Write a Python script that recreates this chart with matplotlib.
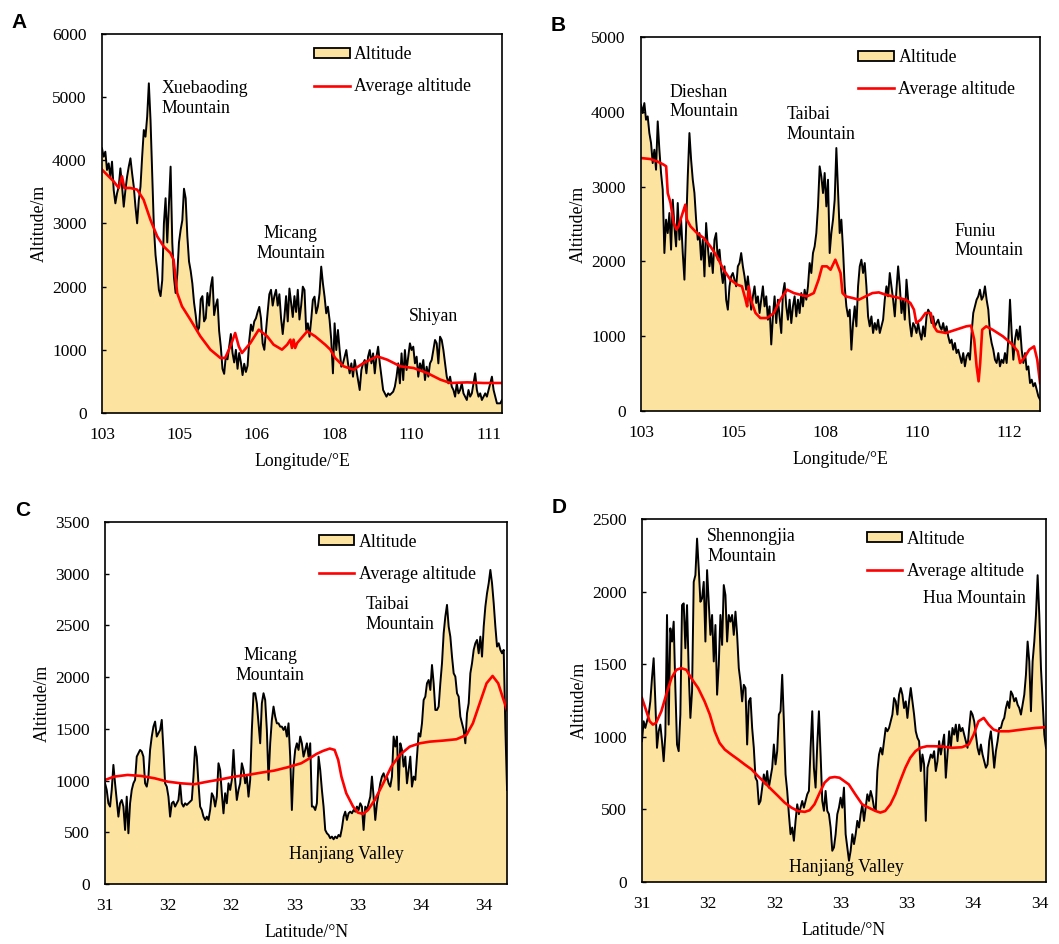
import numpy as np
import matplotlib
matplotlib.use('Agg')
import matplotlib.pyplot as plt
from matplotlib.patches import Patch
from matplotlib.lines import Line2D

plt.rcParams['font.family'] = ['Liberation Serif', 'DejaVu Serif']

FILL = '#FCE3A0'

# ---- A: altitude profile along longitude (equal spacing along the section)
alt_a = [4190, 4058, 4137, 3847, 3952, 3741, 3979, 3530, 3319, 3477, 3583, 3873, 3583, 3266, 3530,
         3741, 3900, 4032, 3794, 3583, 3266, 3003, 3372, 3583, 4058, 4480, 4374, 4690, 5219, 4638,
         3800, 2950, 2500, 2250, 1950, 1850, 2100, 3000, 3400, 2700, 3300, 3900, 2700, 2150, 1900,
         2200, 2700, 2900, 3050, 3550, 3400, 2800, 2400, 2250, 2050, 1750, 1550, 1300, 1350, 1800,
         1850, 1450, 1500, 1900, 1700, 2000, 2150, 1550, 1700, 1800, 1300, 1050, 700, 620, 900,
         850, 1050, 1250, 950, 800, 1000, 700, 950, 800, 600, 780, 650, 750, 1150, 1400,
         1300, 1450, 1500, 1600, 1680, 1500, 1100, 1000, 1300, 1600, 1880, 1950, 1700, 1850, 1950,
         1700, 1880, 1500, 1250, 1520, 1850, 1450, 1970, 1750, 1520, 1850, 1600, 1950, 1480, 1700,
         2000,
         1947, 1314, 1420, 1208, 1472, 1789, 1842, 1578, 1683, 1894, 2317, 2053, 1842, 1578, 1683,
         1472, 1156, 628, 1420, 997, 1314, 997, 733, 786, 892, 997, 786, 628, 786, 575,
         839, 681, 522, 364, 681, 786, 839, 628, 892, 997, 786, 944, 628, 892, 1050,
         786, 575, 364, 311, 259, 311, 285, 311, 338, 417, 575, 786, 470, 944, 522,
         997, 681, 892, 1103, 997, 1050, 786, 892, 575, 786, 681, 839, 522, 733, 575,
         786, 839, 997, 1156, 1103, 786, 1208, 1156, 997, 786, 575, 470, 575, 417, 364,
         259, 470, 311, 364, 470, 311, 259, 206, 364, 259, 311, 470, 628, 364, 259,
         311, 206, 259, 311, 259, 364, 470, 575, 364, 259, 153, 153, 153, 206]
avg_a_pos = [0, 2.9, 4.2, 5.0, 5.6, 7.1, 8.8, 10.4, 12.1, 13.8, 15.4, 17.1, 17.9, 18.8, 20.0,
             22.1, 24.6, 27.1, 29.6, 30.8, 32.1, 33.3, 34.2, 35.0, 37.1, 39.2, 41.3, 42.9, 45.0,
             46.3, 47.1, 47.5, 47.9, 48.3, 48.8, 51.3, 53.3, 55.8, 57.1, 58.3, 60.4, 62.9, 65.4,
             68.8, 71.3, 74.6, 77.9, 81.3, 84.6, 87.1, 91.3, 95.4, 100]
avg_a = [3852, 3668, 3562, 3747, 3562, 3562, 3536, 3377, 3061, 2797, 2639, 2533, 2427, 1900, 1689,
         1478, 1214, 1003, 871, 871, 1055, 1266, 1055, 950, 1108, 1319, 1214, 1082, 1003,
         1082, 1161, 1030, 1161, 1030, 1108, 1293, 1214, 1082, 1003, 871, 739, 686, 792,
         897, 844, 739, 712, 633, 528, 475, 485, 475, 475]
ticks_a = ['103', '105', '106', '108', '110', '111']

# ---- B
alt_b = [4095, 3984, 4117, 3894, 3939, 3716, 3583, 3315, 3493, 3226, 3872, 3493, 3182, 2959, 2112,
         2558, 2379, 2647, 2157, 2825, 2469, 2201, 2781, 2290, 2558, 2112, 1756, 2469, 3137, 3716,
         3360, 3092, 2914, 2558, 2290, 2379, 2023, 2290, 1800, 2513, 2201, 1934, 2112, 1845, 2290,
         2379, 2023, 2157, 1889, 1711, 1934, 1488, 1355, 1667, 1800, 1845, 1756, 1667, 1934, 1978,
         2112, 1934, 1800, 1622, 1800, 1577, 1355, 1533, 1667, 1444, 1533, 1310, 1488, 1667, 1399,
         1533, 1221, 1399, 890, 1265, 1533, 1176, 1488, 1265, 1043, 1577, 1711, 1399, 1221, 1488,
         1176, 1399, 1533, 1265, 1488, 1310, 1577, 1399, 1622, 1488, 1667, 1978, 1845, 2112, 2201,
         2379, 2736, 3271, 3137, 2914, 3182, 2736, 3092, 2112, 2379, 2558, 2825, 3516, 2959, 2379,
         2558,
         2157, 1667, 1399, 1265, 1355, 820, 1176, 1399, 1132, 1667, 1934, 2023, 1845, 1978, 1667,
         1265, 1132, 1265, 1043, 1176, 1087, 1221, 1043, 1132, 1221, 1488, 1667, 1533, 1845, 1667,
         1488, 1265, 1622, 1934, 1667, 1310, 1488, 1221, 1756, 1488, 1176, 998, 1176, 1132, 1043,
         1176, 1043, 954, 1132, 998, 1265, 1355, 1310, 1176, 1265, 1132, 1176, 1221, 1132, 1087,
         1176, 1043, 1132, 998, 909, 954, 820, 909, 775, 820, 731, 642, 775, 597, 731,
         775, 686, 1043, 1310, 1399, 1488, 1533, 1622, 1488, 1533, 1667, 1488, 1355, 1043, 909,
         820, 686, 642, 775, 597, 686, 642, 775, 642, 954, 1488, 1043, 686, 954, 1087,
         954, 1132, 820, 642, 775, 553, 597, 374, 419, 330, 374, 285, 196, 152]
avg_b_pos = [0, 2.3, 4.0, 5.7, 6.3, 6.7, 7.4, 8.2, 8.9, 9.4, 10.3, 11.1, 11.5, 12.4, 14.0,
             15.7, 17.4, 19.0, 20.7, 22.4, 24.1, 25.3, 26.2, 26.6, 27.0, 27.4, 27.8, 28.7, 29.9,
             31.6, 33.3, 34.9, 36.6, 38.3, 39.9, 41.6, 43.3, 44.5, 45.4, 46.6, 47.5, 48.7, 50.0,
             50.5, 51.3, 53.0, 54.6, 56.3, 58.0, 59.6, 61.3, 63.0, 64.7, 66.3, 67.5, 68.4, 69.0,
             70.1, 71.3, 72.6, 73.4, 74.2, 76.4, 78.9, 81.5, 82.7, 83.5, 84.1, 84.6, 85.0, 85.5,
             86.5, 88.1, 90.7, 93.1, 94.4, 95.0, 96.0, 97.3, 98.5, 99.3, 100]
avg_b = [3382, 3369, 3338, 3293, 3271, 2914, 2781, 2513, 2424, 2469, 2625, 2758, 2558, 2469, 2380,
         2313, 2201, 2068, 1889, 1756, 1689, 1667, 1488, 1399, 1667, 1533, 1444, 1310, 1243,
         1243, 1310, 1488, 1622, 1577, 1555, 1533, 1577, 1756, 1934, 1934, 1889, 2023, 1845,
         1577, 1533, 1511, 1488, 1533, 1577, 1586, 1555, 1533, 1511, 1488, 1444, 1355, 1176,
         1221, 1310, 1310, 1132, 1065, 1043, 1087, 1132, 1141, 954, 597, 397, 642, 1087,
         1132, 1087, 998, 887, 798, 642, 709, 820, 864, 686, 374]
ticks_b = ['103', '105', '108', '110', '112']

# ---- C: altitude profile along latitude
alt_c = [973, 909, 780, 748, 909, 1151, 973, 812, 651, 780, 812, 748, 522, 844, 490,
         780, 909, 973, 1006, 1231, 1263, 1296, 1280, 1231, 973, 941, 1038, 1296, 1425, 1521,
         1570, 1425, 1457, 1489, 1586, 1296, 973, 941, 844, 651, 780, 796, 748, 780, 812,
         973, 780, 748, 780, 764, 780, 796, 812, 1038, 1328, 1231, 973, 748, 715, 651,
         619, 651, 619, 715, 877, 844, 748, 844, 1167, 1102, 877, 683, 877, 780, 973,
         909, 1006, 1296, 1006, 812, 909, 973, 1167, 1102, 973, 1038, 844, 1006, 1489, 1844,
         1844, 1747, 1553, 1360, 1747, 1844, 1779, 1489, 1006, 1360, 1586, 1715, 1618, 1553, 1553,
         1521, 1521, 1489, 1521, 1425, 1553, 1231, 715, 1134, 1296, 1360, 1296, 1425, 1360, 1231,
         1296,
         1360, 1231, 1360, 748, 748, 715, 780, 1231, 1102, 909, 748, 522, 490, 474, 442,
         458, 432, 458, 442, 474, 458, 538, 651, 699, 619, 683, 699, 683, 715, 699,
         748, 715, 780, 748, 522, 748, 715, 780, 844, 1038, 844, 619, 780, 877, 973,
         1038, 1070, 1006, 1038, 973, 941, 1038, 1425, 1328, 1425, 909, 1360, 1296, 1134, 1231,
         973, 1102, 1231, 941, 1038, 1006, 1231, 1457, 1425, 1553, 1779, 1811, 1940, 1972, 1876,
         2117, 1940, 1682, 1682, 1715, 1940, 2134, 2424, 2585, 2698, 2488, 2391, 2198, 2037, 2005,
         1844, 1811, 1618, 1553, 1489, 1360, 1650, 1747, 2037, 2134, 2263, 2327, 2359, 2230, 2391,
         2198, 2488, 2682, 2811, 2907, 3036, 2907, 2714, 2488, 2295, 2327, 2263, 2230, 2263, 1500,
         909]
avg_c_pos = [0, 2.3, 5.6, 9.0, 12.3, 15.6, 18.9, 22.2, 25.5, 28.9, 32.2, 35.5, 38.8, 42.1, 45.4,
             48.8, 50.9, 52.6, 54.2, 55.9, 57.1, 58.0, 58.8, 60.0, 61.7, 62.9, 64.2, 65.4, 67.1,
             69.2, 71.2, 73.3, 75.8, 78.3, 80.8, 84.1, 87.4, 89.9, 91.5, 93.2, 94.9, 96.4, 97.8,
             99.0, 100]
avg_c = [1006, 1038, 1054, 1044, 1022, 989, 973, 964, 989, 1012, 1038, 1054, 1076, 1096, 1128,
         1167, 1215, 1257, 1286, 1309, 1296, 1199, 1038, 877, 748, 690, 677, 715, 812,
         973, 1134, 1247, 1328, 1360, 1376, 1386, 1399, 1441, 1553, 1747, 1940, 2011, 1940,
         1795, 1682]
ticks_c = ['31', '32', '32', '33', '33', '34', '34']

# ---- D
alt_d = [970, 1107, 1061, 1107, 1153, 1244, 1404, 1541, 1244, 924, 1038, 1084, 970, 832, 1015,
         1839, 1084, 1747, 1656, 1793, 1336, 947, 901, 1153, 1907, 1919, 1610, 1907, 1450, 1130,
         1313, 2067, 2113, 2365, 2159, 1930, 1953, 2067, 1656, 2148, 1930, 1702, 1839, 1519, 1770,
         1290, 1496, 1839, 1633, 2045, 1976, 1656, 1839, 1793, 1839, 1702, 1862, 1702, 1473, 1381,
         1244, 1358, 1336, 947, 1244, 1267, 1061, 924, 718, 695, 535, 558, 650, 741, 672,
         764, 650, 718, 786, 947, 810, 901, 1153, 1176, 1427, 1107, 741, 627, 467, 329,
         375, 284, 421, 535, 467, 512, 558, 512, 558, 604, 627, 924, 1176, 786, 650,
         947, 1176, 878, 558, 490, 627, 490, 467, 375, 215, 238, 329, 467, 512, 581,
         512,
         650, 329, 238, 146, 215, 329, 261, 329, 421, 375, 467, 535, 421, 512, 604,
         558, 627, 581, 512, 489, 764, 878, 924, 878, 970, 1061, 1038, 1061, 1107, 1153,
         1267, 1244, 1153, 1290, 1336, 1290, 1198, 1244, 1130, 1244, 1336, 1244, 1153, 1038, 993,
         970, 764, 878, 810, 421, 787, 832, 878, 855, 901, 764, 832, 970, 878, 947,
         1015, 718, 878, 1038, 924, 1061, 1015, 1084, 970, 1084, 1038, 1061, 1015, 970, 924,
         1061, 1176, 1153, 1107, 1015, 924, 878, 947, 878, 832, 787, 810, 970, 1038, 924,
         787, 901, 970, 1061, 1061, 1107, 1130, 1198, 1244, 1198, 1313, 1290, 1244, 1267, 1221,
         1198, 1153, 1221, 1290, 1427, 1656, 1519, 1176, 1519, 1656, 1839, 2113, 1839, 1473, 1244,
         1015, 924]
avg_d_pos = [0, 1.1, 1.9, 2.7, 3.5, 4.8, 6.0, 7.3, 8.5, 9.7, 11.0, 12.2, 13.9, 15.5, 16.8,
             18.0, 19.2, 20.5, 22.1, 23.8, 25.4, 27.1, 28.7, 30.4, 32.0, 33.7, 35.3, 37.0, 38.6,
             40.3, 41.5, 42.7, 44.0, 45.2, 46.5, 47.7, 48.9, 51.2, 52.8, 54.5, 56.1, 57.8, 59.0,
             60.2, 61.5, 62.7, 63.9, 65.2, 66.4, 67.7, 68.9, 70.5, 72.2, 74.3, 76.7, 79.2, 80.9,
             82.1, 83.3, 84.6, 85.8, 87.0, 88.3, 90.8, 94.1, 97.4, 100]
avg_d = [1267, 1176, 1107, 1084, 1096, 1176, 1290, 1404, 1461, 1473, 1461, 1404, 1336, 1244, 1153,
         1038, 958, 912, 878, 844, 810, 776, 730, 684, 638, 592, 547, 512, 489,
         483, 494, 535, 615, 684, 718, 723, 718, 672, 604, 535, 512, 489, 478,
         489, 535, 604, 695, 787, 855, 901, 924, 935, 935, 933, 924, 928, 947,
         1015, 1107, 1130, 1084, 1050, 1038, 1038, 1050, 1061, 1066]
ticks_d = ['31', '32', '32', '33', '33', '34', '34']


def panel(rect, letter, alt, avg_pos, avg, ymax, ystep, ticks, tstep, xlab, notes, legx):
    ax = fig.add_axes(rect)
    x = np.linspace(0, 100, len(alt))
    ax.fill_between(x, alt, 0, color=FILL, lw=0)
    ax.plot(x, alt, color='black', lw=1.4)
    ax.plot(avg_pos, avg, color='red', lw=1.9)
    ax.set_xlim(0, 100)
    ax.set_ylim(0, ymax)
    ax.set_yticks(np.arange(0, ymax + 1, ystep))
    ax.set_xticks(np.arange(len(ticks)) * tstep)
    ax.set_xticklabels(ticks)
    ax.tick_params(axis='y', direction='in', length=3, width=1, labelsize=12.5, pad=11)
    ax.tick_params(axis='x', length=0, labelsize=12.5, pad=10)
    for s in ax.spines.values():
        s.set_linewidth(1.2)
    ax.set_ylabel('Altitude/m', fontsize=12.8, labelpad=3)
    ax.set_xlabel(xlab, fontsize=12.8, labelpad=7)
    for txt, tx, ty, ha in notes:
        ax.text(tx, ty, txt, fontsize=12.8, ha=ha, va='center', linespacing=1.2)
    hands = [Patch(facecolor=FILL, edgecolor='black', linewidth=1.3, label='Altitude'),
             Line2D([], [], color='red', lw=1.9, label='Average altitude')]
    ax.legend(handles=hands, loc='upper left', bbox_to_anchor=(legx, 0.968), frameon=False,
              fontsize=12.8, handlelength=2.0, handleheight=0.5, handletextpad=0.25,
              labelspacing=0.85, borderpad=0, borderaxespad=0)
    fig.text(rect[0] - 0.078, rect[1] + rect[3] + 0.012, letter, fontsize=15,
             fontweight='bold', family='Liberation Sans', ha='center', va='center')
    return ax


fig = plt.figure(figsize=(10.59, 9.44), dpi=100)

panel([0.0963, 0.5625, 0.3777, 0.4015], 'A', alt_a, avg_a_pos, avg_a, 6000, 1000,
      ticks_a, 19.34, 'Longitude/°E',
      [('Xuebaoding\nMountain', 15.0, 4976, 'left'),
       ('Micang\nMountain', 47.2, 2680, 'center'),
       ('Shiyan', 82.9, 1530, 'center')], 0.53)

panel([0.6053, 0.5646, 0.3768, 0.3962], 'B', alt_b, avg_b_pos, avg_b, 5000, 1000,
      ticks_b, 23.1, 'Longitude/°E',
      [('Dieshan\nMountain', 7.1, 4131, 'left'),
       ('Taibai\nMountain', 36.5, 3832, 'left'),
       ('Funiu\nMountain', 78.6, 2273, 'left')], 0.545)

panel([0.0992, 0.0636, 0.3796, 0.3835], 'C', alt_c, avg_c_pos, avg_c, 3500, 500,
      ticks_c, 15.7, 'Latitude/°N',
      [('Micang\nMountain', 41.1, 2111, 'center'),
       ('Taibai\nMountain', 64.7, 2604, 'left'),
       ('Hanjiang Valley', 60.0, 284, 'center')], 0.531)

panel([0.6062, 0.0657, 0.3815, 0.3845], 'D', alt_d, avg_d_pos, avg_d, 2500, 500,
      ticks_d, 16.4, 'Latitude/°N',
      [('Shennongjia\nMountain', 16.1, 2309, 'left'),
       ('Hua Mountain', 82.3, 1953, 'center'),
       ('Hanjiang Valley', 50.6, 103, 'center')], 0.556)

fig.savefig('out.png', dpi=100)
